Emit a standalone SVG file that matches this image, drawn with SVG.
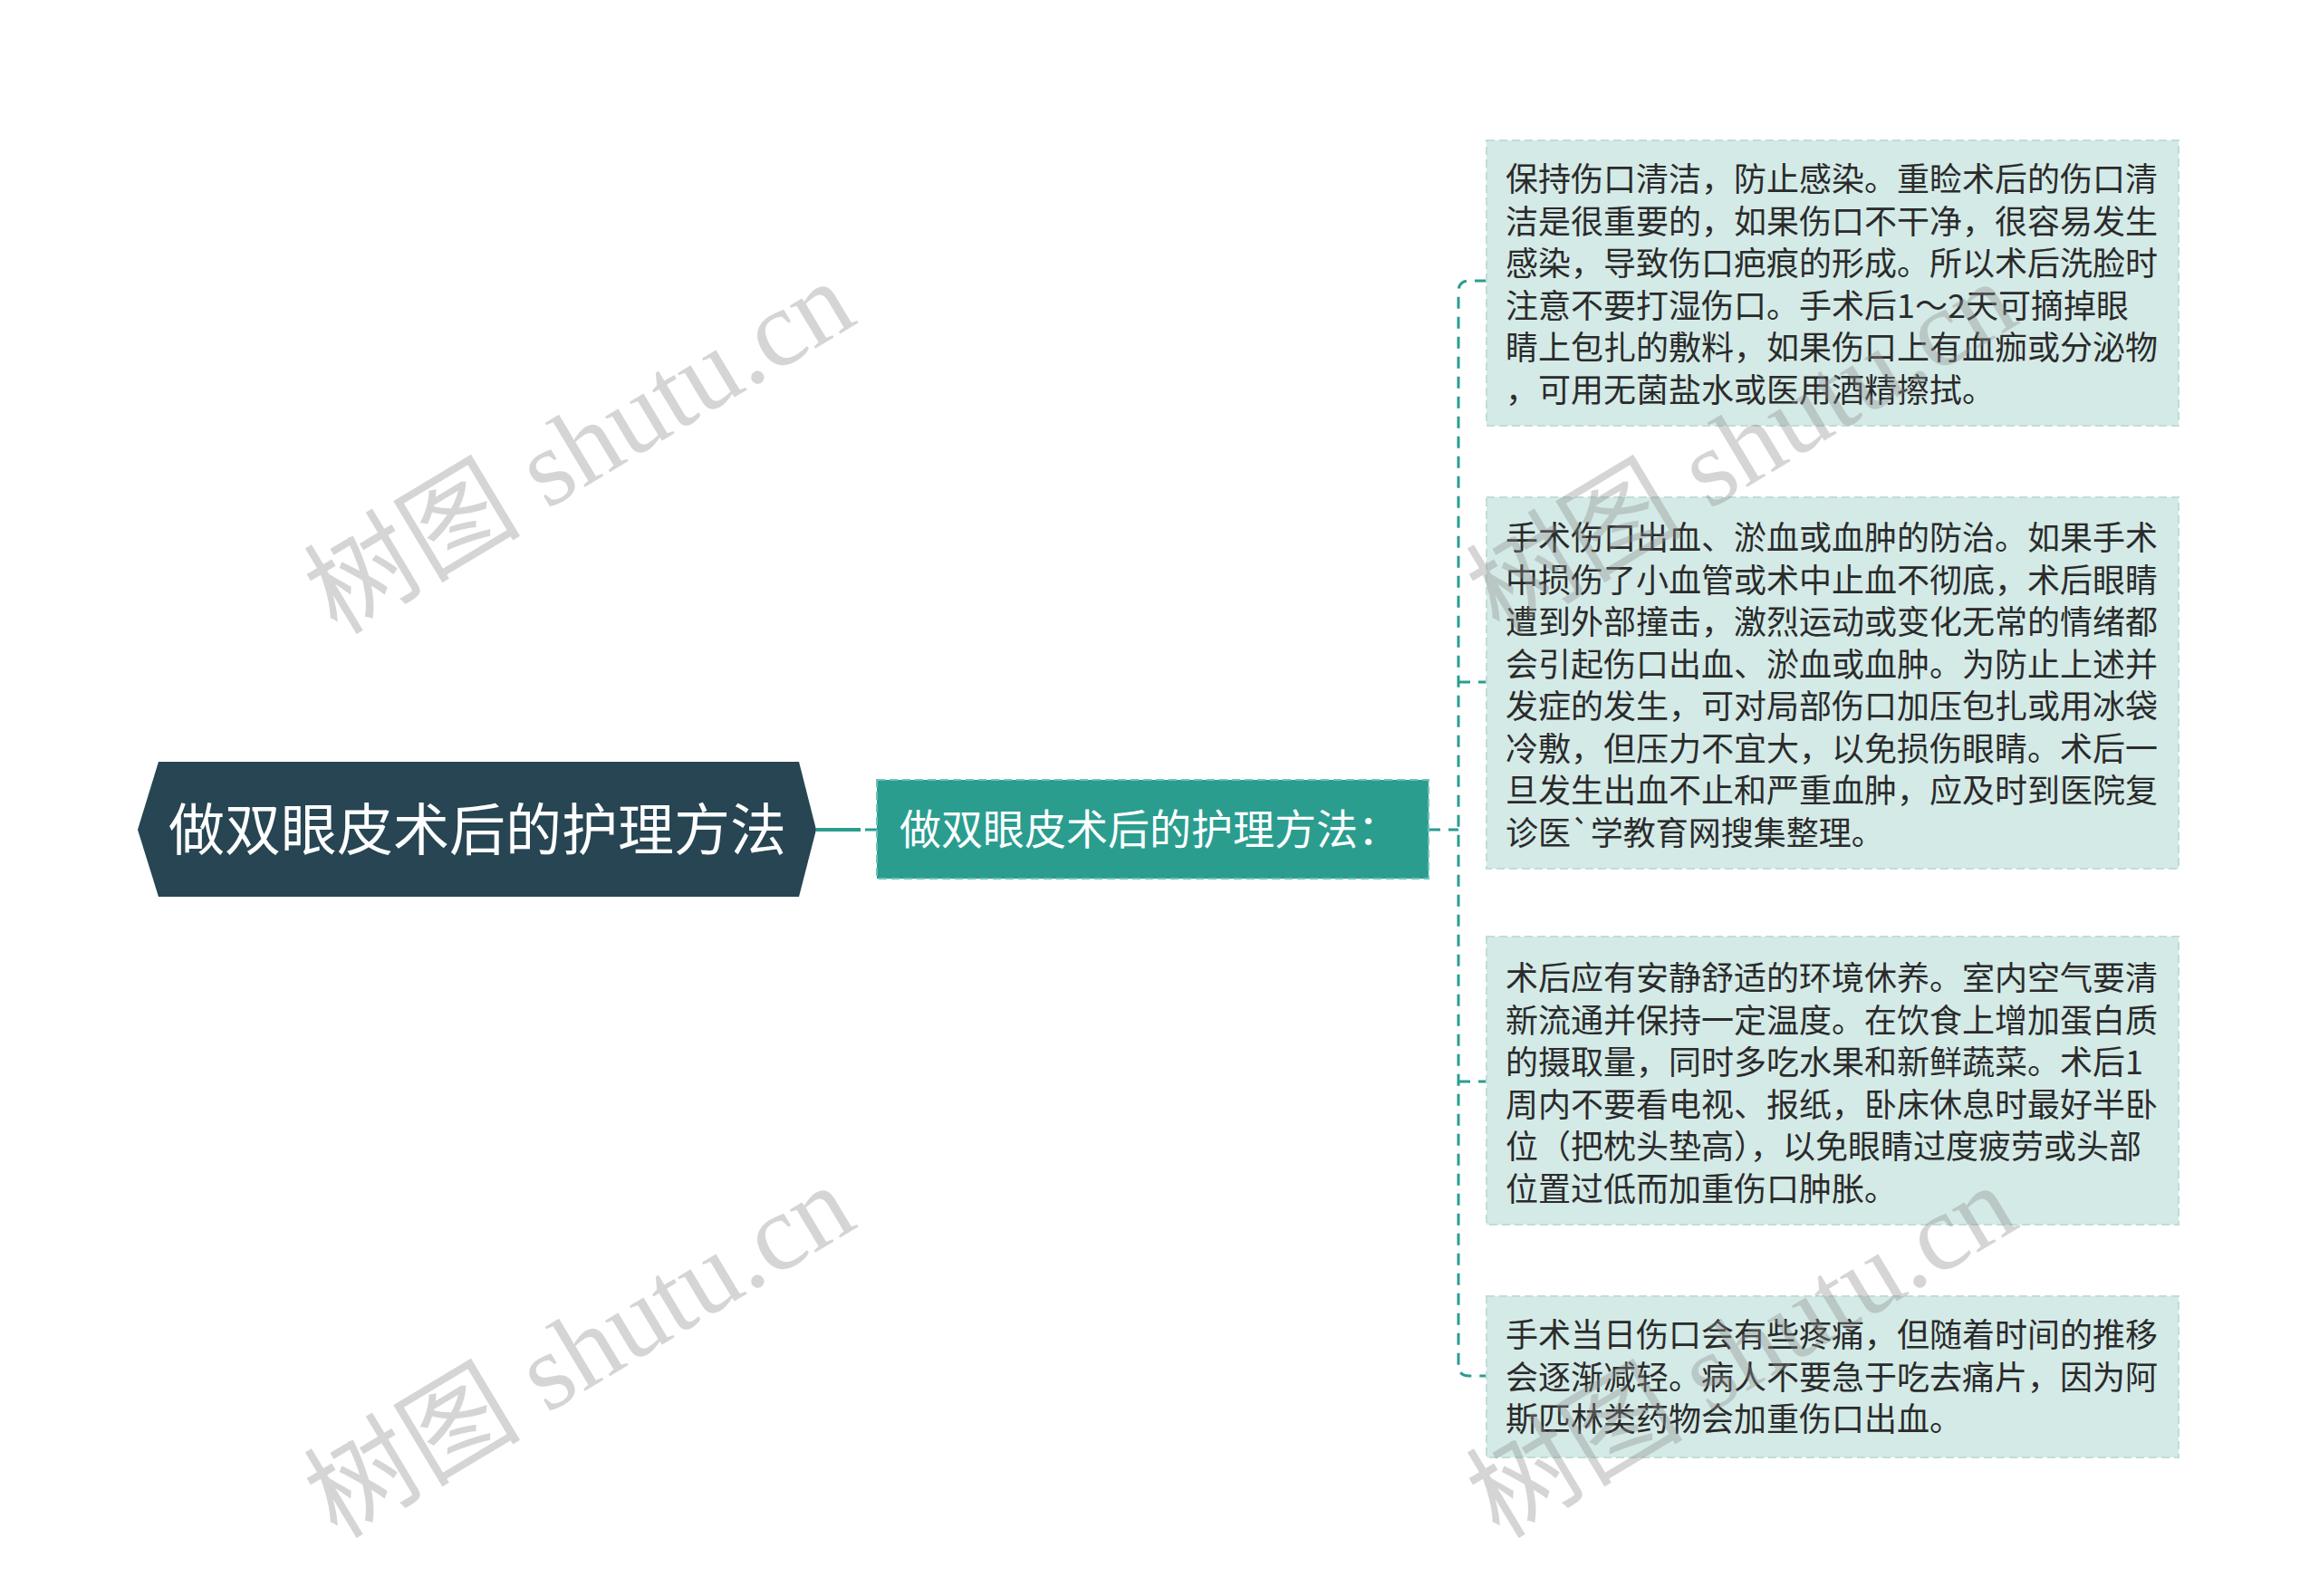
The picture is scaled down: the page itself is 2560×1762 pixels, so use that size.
<svg xmlns="http://www.w3.org/2000/svg" width="2560" height="1762" viewBox="0 0 2560 1762">
<style>
.cjk{font-family:"Noto Sans CJK SC","Noto Sans",sans-serif;}
.box{fill:#d4eae7;stroke:#c0ddd9;stroke-width:2;stroke-dasharray:9 5;}
.bt{font-size:36px;fill:#2b2b2b;}
.conn{fill:none;stroke:#2a9d8f;stroke-width:3;stroke-dasharray:13 9;}
.wm{font-family:"Liberation Serif","Noto Sans CJK SC",serif;font-size:120px;fill:#8c8c8c;opacity:0.36;}
</style>
<rect width="2560" height="1762" fill="#ffffff"/>
<g id="connectors">
<line x1="901" y1="916" x2="950" y2="916" stroke="#2a9d8f" stroke-width="4"/>
<line x1="955" y1="916" x2="968" y2="916" stroke="#2a9d8f" stroke-width="3"/>
<path class="conn" d="M1577,916 H1610"/>
<path class="conn" d="M1641,310 H1622 Q1610,310 1610,322 V1507 Q1610,1519 1622,1519 H1641"/>
<path class="conn" d="M1610,753 H1641"/>
<path class="conn" d="M1610,1194 H1641"/>
</g>
<g id="root">
<polygon points="152,916 175,841 882,841 901,916 882,990 175,990" fill="#274553"/>
<text class="cjk" x="527" y="939" font-size="62" fill="#ffffff" text-anchor="middle">做双眼皮术后的护理方法</text>
</g>
<g id="child">
<rect x="968" y="861" width="609" height="109" fill="#2a9d8f" stroke="#6cc3b8" stroke-width="2" stroke-dasharray="9 5"/>
<text class="cjk" x="993" y="932" font-size="46" fill="#ffffff">做双眼皮术后的护理方法：</text>
</g>
<g id="box1">
<rect class="box" x="1641" y="155" width="764" height="315"/>
<text class="cjk bt" x="1662"><tspan x="1662" y="211">保持伤口清洁，防止感染。重睑术后的伤口清</tspan><tspan x="1662" y="257.5">洁是很重要的，如果伤口不干净，很容易发生</tspan><tspan x="1662" y="304">感染，导致伤口疤痕的形成。所以术后洗脸时</tspan><tspan x="1662" y="350.5">注意不要打湿伤口。手术后1～2天可摘掉眼</tspan><tspan x="1662" y="397">睛上包扎的敷料，如果伤口上有血痂或分泌物</tspan><tspan x="1662" y="443.5">，可用无菌盐水或医用酒精擦拭。</tspan></text>
</g>
<g id="box2">
<rect class="box" x="1641" y="549" width="764" height="410"/>
<text class="cjk bt" x="1662"><tspan x="1662" y="607">手术伤口出血、淤血或血肿的防治。如果手术</tspan><tspan x="1662" y="653.5">中损伤了小血管或术中止血不彻底，术后眼睛</tspan><tspan x="1662" y="700">遭到外部撞击，激烈运动或变化无常的情绪都</tspan><tspan x="1662" y="746.5">会引起伤口出血、淤血或血肿。为防止上述并</tspan><tspan x="1662" y="793">发症的发生，可对局部伤口加压包扎或用冰袋</tspan><tspan x="1662" y="839.5">冷敷，但压力不宜大，以免损伤眼睛。术后一</tspan><tspan x="1662" y="886">旦发生出血不止和严重血肿，应及时到医院复</tspan><tspan x="1662" y="932.5">诊医`学教育网搜集整理。</tspan></text>
</g>
<g id="box3">
<rect class="box" x="1641" y="1034" width="764" height="318"/>
<text class="cjk bt" x="1662"><tspan x="1662" y="1093">术后应有安静舒适的环境休养。室内空气要清</tspan><tspan x="1662" y="1139.5">新流通并保持一定温度。在饮食上增加蛋白质</tspan><tspan x="1662" y="1186">的摄取量，同时多吃水果和新鲜蔬菜。术后1</tspan><tspan x="1662" y="1232.5">周内不要看电视、报纸，卧床休息时最好半卧</tspan><tspan x="1662" y="1279">位（把枕头垫高），以免眼睛过度疲劳或头部</tspan><tspan x="1662" y="1325.5">位置过低而加重伤口肿胀。</tspan></text>
</g>
<g id="box4">
<rect class="box" x="1641" y="1431" width="764" height="178"/>
<text class="cjk bt" x="1662"><tspan x="1662" y="1487">手术当日伤口会有些疼痛，但随着时间的推移</tspan><tspan x="1662" y="1533.5">会逐渐减轻。病人不要急于吃去痛片，因为阿</tspan><tspan x="1662" y="1580">斯匹林类药物会加重伤口出血。</tspan></text>
</g>
<g id="watermarks">
<text class="wm" transform="translate(372,702) rotate(-31)">树图 shutu.cn</text>
<text class="wm" transform="translate(372,1700) rotate(-31)">树图 shutu.cn</text>
<text class="wm" transform="translate(1655,702) rotate(-31)">树图 shutu.cn</text>
<text class="wm" transform="translate(1655,1700) rotate(-31)">树图 shutu.cn</text>
</g>
</svg>
